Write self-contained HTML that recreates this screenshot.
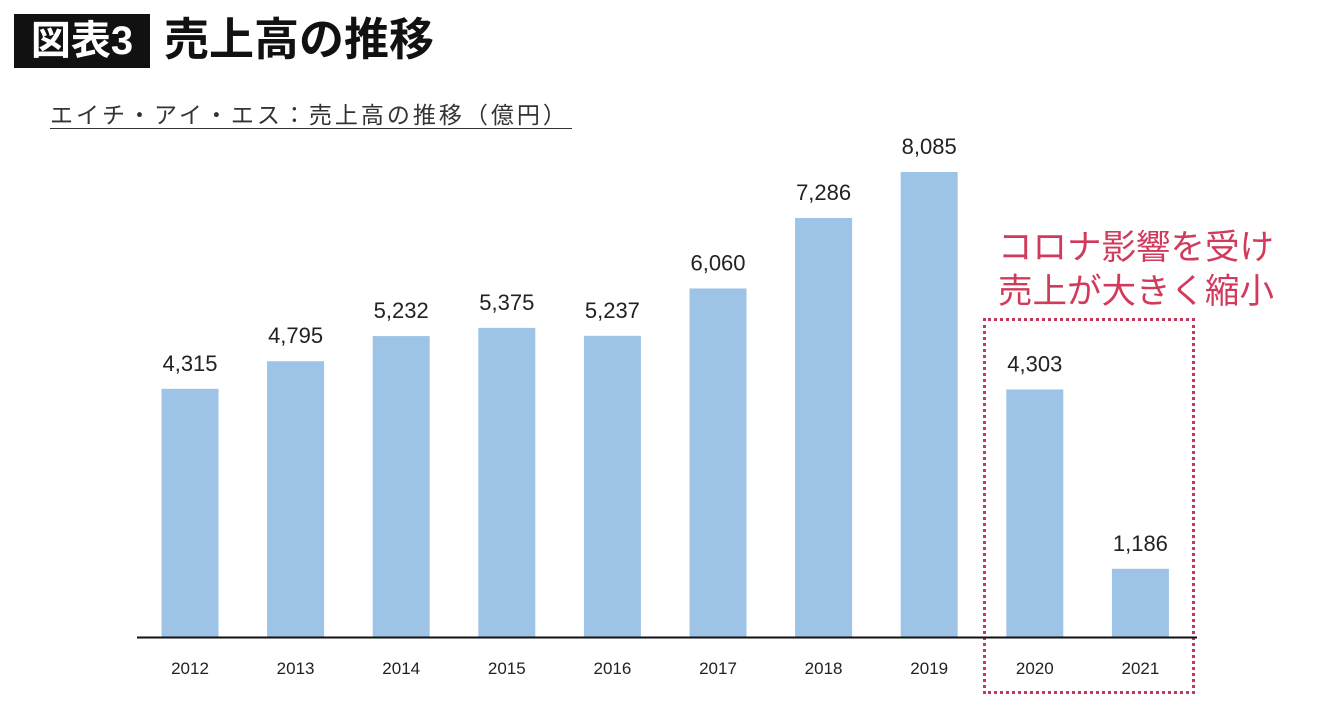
<!DOCTYPE html>
<html><head><meta charset="utf-8">
<style>
body{margin:0;width:1340px;height:712px;background:#fff;position:relative;overflow:hidden;font-family:"Liberation Sans","Noto Sans CJK JP",sans-serif;}
.abs{position:absolute;}
</style></head><body>
<div class="abs" style="left:14px;top:14px;width:136px;height:54px;background:#111;color:#fff;font-weight:bold;font-size:40px;line-height:54px;text-align:center;">図表3</div>
<div class="abs" style="left:164px;top:10px;font-weight:bold;font-size:45px;line-height:60px;color:#111;">売上高の推移</div>
<div class="abs" style="left:50px;top:100px;font-size:23px;letter-spacing:3px;line-height:30px;color:#333;white-space:nowrap;">エイチ・アイ・エス：売上高の推移（億円）</div>
<div class="abs" style="left:50px;top:128px;width:522px;height:1px;background:#333;"></div>
<div class="abs" style="left:998px;top:226px;font-size:34.5px;line-height:44px;color:#d23a5c;white-space:nowrap;">コロナ影響を受け<br>売上が大きく縮小</div>
<div class="abs" style="left:983px;top:318px;width:206px;height:370px;border:3px dotted #c23a58;"></div>
<svg class="abs" style="left:0;top:0" width="1340" height="712" id="chart"></svg>
<script>
const years=["2012","2013","2014","2015","2016","2017","2018","2019","2020","2021"];
const sales=[4315,4795,5232,5375,5237,6060,7286,8085,4303,1186];
const labels=["4,315","4,795","5,232","5,375","5,237","6,060","7,286","8,085","4,303","1,186"];
const svg=document.getElementById('chart');
const NS='http://www.w3.org/2000/svg';
const base=637, scale=465/8085;
const xc=i=>190+i*105.6;
const y=v=>base-v*scale;
years.forEach((yr,i)=>{
  const r=document.createElementNS(NS,'rect');
  r.setAttribute('x',xc(i)-28.5);r.setAttribute('y',y(sales[i]));
  r.setAttribute('width',57);r.setAttribute('height',base-y(sales[i]));
  r.setAttribute('fill','#9dc3e6');
  
  
  svg.appendChild(r);
  const t=document.createElementNS(NS,'text');
  t.setAttribute('x',xc(i));t.setAttribute('y',y(sales[i])-18);
  t.setAttribute('text-anchor','middle');t.setAttribute('font-size','22');t.setAttribute('fill','#222');
  t.textContent=labels[i];
  
  
  svg.appendChild(t);
  const a=document.createElementNS(NS,'text');
  a.setAttribute('x',xc(i));a.setAttribute('y',674);
  a.setAttribute('text-anchor','middle');a.setAttribute('font-size','17');a.setAttribute('fill','#222');
  a.textContent=yr;
  
  
  svg.appendChild(a);
});
const l=document.createElementNS(NS,'line');
l.setAttribute('x1',137);l.setAttribute('x2',1197);l.setAttribute('y1',base+0.5);l.setAttribute('y2',base+0.5);
l.setAttribute('stroke','#111');l.setAttribute('stroke-width','2');


svg.appendChild(l);
</script>
</body></html>
